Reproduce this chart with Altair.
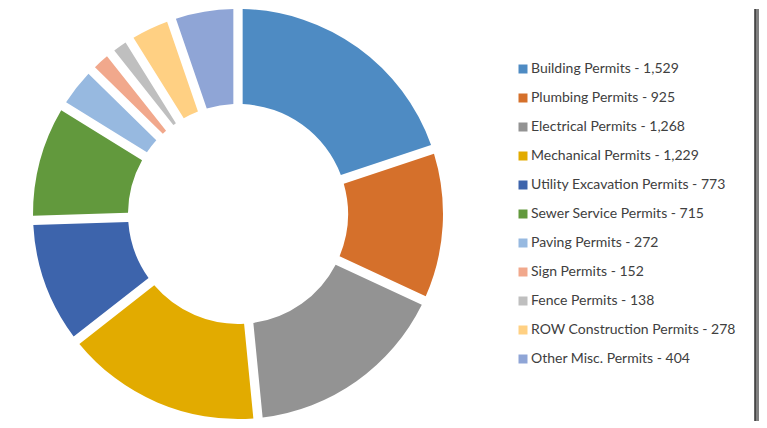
import altair as alt
import pandas as pd

categories = [
    "Building Permits", "Plumbing Permits", "Electrical Permits", "Mechanical Permits",
    "Utility Excavation Permits", "Sewer Service Permits", "Paving Permits", "Sign Permits",
    "Fence Permits", "ROW Construction Permits", "Other Misc. Permits",
]
values = [1529, 925, 1268, 1229, 773, 715, 272, 152, 138, 278, 404]
colors = [
    "#4E8BC3", "#D5702B", "#939393", "#E2AB00", "#3D64AC", "#62993D",
    "#97B9E0", "#F1A88C", "#BFBFBF", "#FFD083", "#8FA5D6",
]

labels = [f"{c} - {v:,}" for c, v in zip(categories, values)]
df = pd.DataFrame({"label": labels, "value": values, "order": list(range(len(values)))})

W, H = 460, 410

arc = alt.Chart(df).mark_arc(innerRadius=110, outerRadius=205, padAngle=0.04).encode(
    theta=alt.Theta("value:Q", stack=True),
    color=alt.Color(
        "label:N",
        sort=labels,
        scale=alt.Scale(domain=labels, range=colors),
        legend=alt.Legend(
            title=None,
            orient="none",
            legendX=508,
            legendY=53,
            symbolType="square",
            symbolSize=81,
            symbolStrokeWidth=0,
            labelFont="Lato",
            labelFontSize=14,
            labelColor="#404040",
            labelOffset=1,
            rowPadding=15,
            labelLimit=400,
        ),
    ),
    order=alt.Order("order:Q"),
)

edge = pd.DataFrame({"k": [0]})
bar = alt.Chart(edge).mark_rect(color="#808080").encode(
    x=alt.value(747), x2=alt.value(751), y=alt.value(0), y2=alt.value(412)
)
line = alt.Chart(edge).mark_rule(color="#333333", strokeWidth=1.5).encode(
    x=alt.value(747), y=alt.value(0), y2=alt.value(412)
)

chart = alt.layer(arc, bar, line).properties(
    width=W, height=H, padding=0
).configure_view(stroke=None)

chart.save("out.html", embed_options={"renderer": "svg", "actions": False})
